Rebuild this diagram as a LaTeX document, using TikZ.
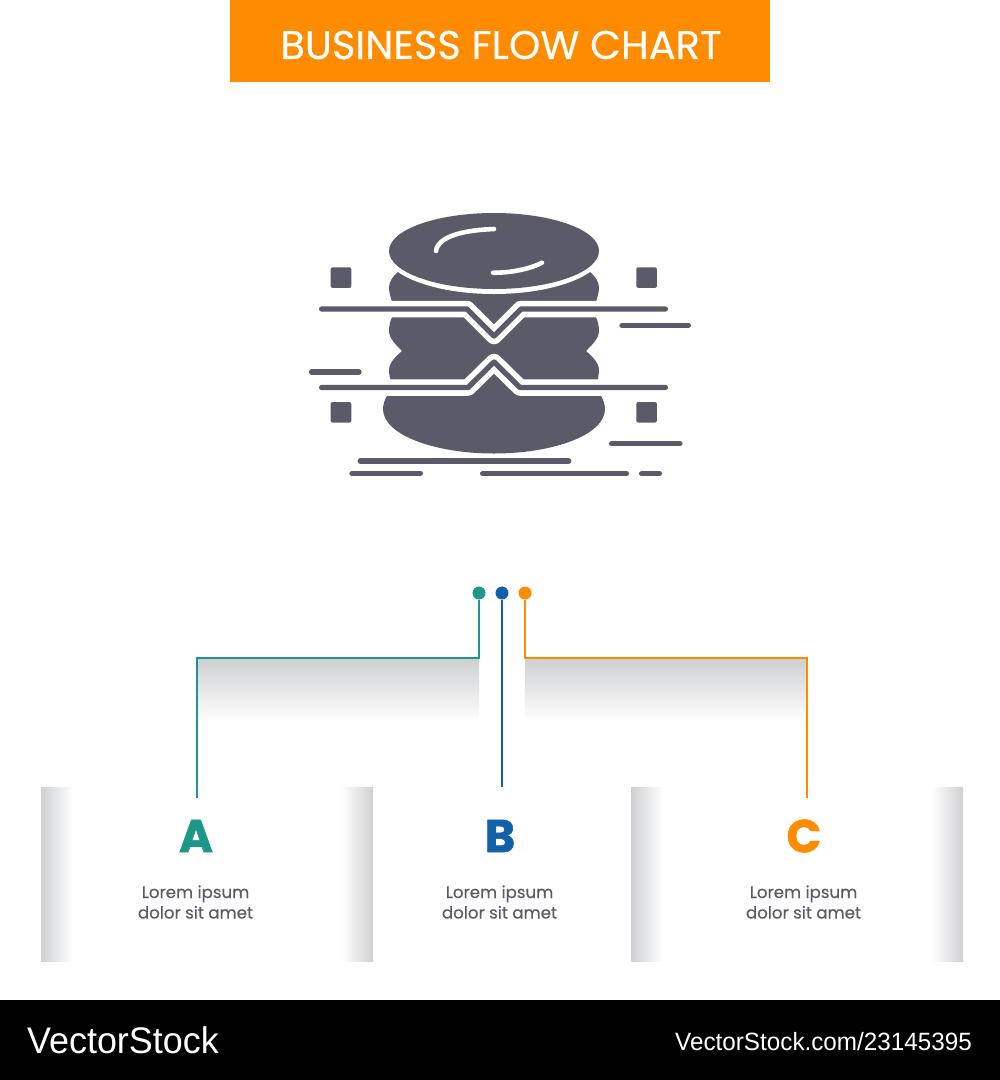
\documentclass[tikz,border=0pt]{standalone}
\usepackage{fontspec}
\setmainfont[FakeBold=0.35]{Poppins}
\newfontfamily\heavyfont[BoldFeatures={FakeBold=1.4}]{Poppins}
\newfontfamily\logofont[FakeStretch=0.97]{Liberation Sans}
\usetikzlibrary{positioning,calc,shapes.geometric}
\definecolor{iconcol}{HTML}{5B5A68}
\definecolor{tealcol}{HTML}{1D9787}
\definecolor{bluecol}{HTML}{1161A8}
\definecolor{orangecol}{HTML}{FF8C00}
\definecolor{shadecol}{HTML}{CFD0D2}
\definecolor{shademid}{HTML}{F1F1F2}
\begin{document}
\begin{tikzpicture}[
	x=1pt, y=-1pt,
	% Thanh ngang của biểu tượng
	bar/.style={iconcol, line width=5.3pt, line cap=round},
	% Ô vuông nhỏ
	dotbox/.style={fill=iconcol, rounded corners=2pt},
	% Viền trắng quanh đường gấp
	halo/.style={white, line width=16.5pt, line join=round},
	zigzag/.style={iconcol, line width=5.3pt, line cap=round, line join=round},
	gleam/.style={white, line width=4.6pt, line cap=round},
	% Chấm màu và đường nối
	pin/.style={ellipse, fill=#1, minimum width=13pt, minimum height=13pt, inner sep=0pt},
	link/.style={#1, line width=1.6pt},
	% Chữ cái A, B, C
	letter/.style={font=\fontsize{46}{46}\heavyfont\bfseries, text=#1, inner sep=0pt},
	caption/.style={font=\fontsize{16.6}{20.5}\selectfont, text=iconcol, align=center, inner sep=0pt}
	]
	
	\useasboundingbox (0,0) rectangle (1000,1080);
	\fill[white] (0,0) rectangle (1000,1080);
	
	% --- Tiêu đề ---
	\fill[orangecol] (230,0) rectangle (770,82);
	\node[font=\fontsize{40}{40}\selectfont, text=white, inner sep=0pt] (title) at (501,45) {BUSINESS FLOW CHART};
	
	% --- Biểu tượng ---
	\fill[iconcol] (400,270) .. controls (392,277) and (389,282) .. (389,288)
		.. controls (389,293) and (391,298) .. (393,305) -- (393,315)
		.. controls (390,321) and (389,326) .. (389,331)
		.. controls (389,338) and (396,345) .. (402,351)
		.. controls (396,356) and (389,363) .. (389,370)
		.. controls (389,374) and (390,378) .. (391,382) -- (388,394)
		.. controls (385,399) and (383,404) .. (383,409)
		.. controls (383,435) and (435,453.5) .. (494,453.5)
		.. controls (553,453.5) and (605,435) .. (605,409)
		.. controls (605,404) and (603,399) .. (600,394) -- (597,382)
		.. controls (598,378) and (599,374) .. (599,370)
		.. controls (599,363) and (592,356) .. (586,351)
		.. controls (592,345) and (599,338) .. (599,331)
		.. controls (599,326) and (598,321) .. (595,315) -- (595,305)
		.. controls (597,298) and (599,293) .. (599,288)
		.. controls (599,282) and (596,277) .. (588,270) -- cycle;
	\fill[white] (494,251) ellipse [x radius=110, y radius=43];
	\fill[iconcol] (494,251) ellipse [x radius=105, y radius=38];
	\draw[gleam] (436,251) .. controls (438,236) and (465,230) .. (494,229);
	\draw[gleam] (493,272.7) .. controls (510,273) and (530,269) .. (542,262.7);
	
	% Đường gấp trên và dưới
	\draw[halo] (300,309) -- (467,309) -- (494,336) -- (521,309) -- (690,309);
	\draw[halo] (300,387.5) -- (468,387.5) -- (494,362) -- (520,387.5) -- (690,387.5);
	\draw[zigzag] (321.6,309) -- (467,309) -- (494,336) -- (521,309) -- (665.4,309);
	\draw[zigzag] (321.6,387.5) -- (468,387.5) -- (494,362) -- (520,387.5) -- (665.4,387.5);
	
	% Bốn ô vuông
	\foreach \bx in {330.7,636.3}
		\foreach \by in {267.3,402}
			\fill[dotbox] (\bx,\by) rectangle ++(20.6,20.6);
	
	% Các thanh ngắn
	\draw[bar] (622,325.3) -- (688.4,325.3);
	\draw[bar] (311.6,372) -- (359,372);
	\draw[bar] (611.6,443.7) -- (680,443.7);
	\draw[bar] (360.3,461) -- (568.7,461);
	\draw[bar] (352,473.3) -- (420.4,473.3);
	\draw[bar] (482.6,473.7) -- (626.4,473.7);
	\draw[bar] (641.6,473.7) -- (659.4,473.7);
	
	% --- Dải bóng ---
	\shade[top color=shadecol, middle color=shademid, bottom color=white] (197,659) rectangle (479,722);
	\shade[top color=shadecol, middle color=shademid, bottom color=white] (525,659) rectangle (807,722);
	\foreach \bx/\sgn in {41/1,341/-1,631/1,931/-1}{
		\ifnum\sgn=1
			\shade[left color=shadecol, middle color=shademid, right color=white] (\bx,787) rectangle ++(32,174);
		\else
			\shade[left color=white, middle color=shademid, right color=shadecol] (\bx,787) rectangle ++(32,174);
		\fi
	}
	
	% --- Chấm và đường nối ---
	\node[pin=tealcol] (pinA) at (479,593) {};
	\node[pin=bluecol] (pinB) at (502,593) {};
	\node[pin=orangecol] (pinC) at (525,593) {};
	
	\coordinate (elbowA) at (197,658);
	\coordinate (endA) at (197,798);
	\coordinate (endB) at (502,787);
	\coordinate (elbowC) at (807,658);
	\coordinate (endC) at (807,798);
	
	\draw[link=tealcol] (pinA) |- (elbowA) -- (endA);
	\draw[link=bluecol] (pinB) -- (endB);
	\draw[link=orangecol] (pinC) |- (elbowC) -- (endC);
	
	% --- Ba cột chữ ---
	\node[letter=tealcol] (letterA) at (196,836) {A};
	\node[letter=bluecol] (letterB) at (500,836) {B};
	\node[letter=orangecol] (letterC) at (804,836) {C};
	\node[caption] (textA) at (195.5,902) {Lorem ipsum\\dolor sit amet};
	\node[caption] (textB) at (499.5,902) {Lorem ipsum\\dolor sit amet};
	\node[caption] (textC) at (803.5,902) {Lorem ipsum\\dolor sit amet};
	
	% --- Chân trang ---
	\fill[black] (0,1000) rectangle (1000,1080);
	\node[font=\fontsize{37}{37}\logofont, text=white, anchor=west, inner sep=0pt] (logo) at (27,1040) {VectorStock};
	\node[font=\fontsize{25}{25}\logofont, text=white, anchor=east, inner sep=0pt] (site) at (972,1042) {VectorStock.com/23145395};
\end{tikzpicture}
\end{document}
